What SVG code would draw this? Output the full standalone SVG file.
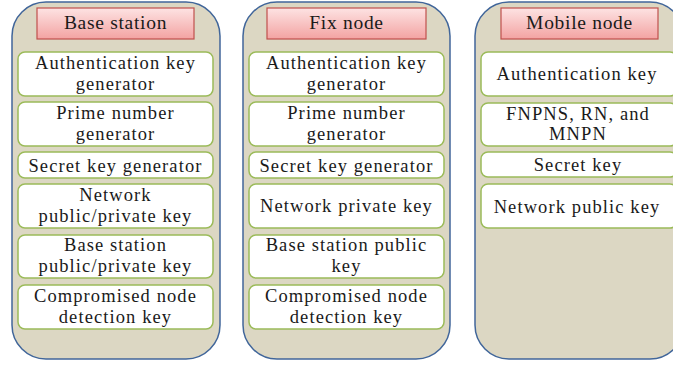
<svg xmlns="http://www.w3.org/2000/svg" width="673" height="366" viewBox="0 0 673 366">
<defs>
<linearGradient id="hdr" x1="0" y1="0" x2="0" y2="1">
<stop offset="0" stop-color="#FDE3E3"/>
<stop offset="1" stop-color="#F3A3A2"/>
</linearGradient>
<style>
.panel{fill:#DCD7C3;stroke:#41669A;stroke-width:1.5}
.hdr{fill:url(#hdr);stroke:#C0504D;stroke-width:1.2}
.item{fill:#FFFFFF;stroke:#9BBB59;stroke-width:1.5}
.t{fill:#1a1a1a}
</style>
</defs>
<rect width="673" height="366" fill="#FFFFFF"/>
<g id="base-station">
<rect class="panel" x="12" y="2" width="208" height="357" rx="34" ry="34"/>
<rect class="hdr" x="37" y="8" width="157" height="31"/>
<text class="t" font-family="Liberation Serif" font-size="19.5" letter-spacing="0.7" text-anchor="middle" x="115.5" y="29">Base station</text>
<rect class="item" x="18" y="52" width="195" height="44" rx="7"/>
<text class="t" font-family="Liberation Serif" font-size="18.5" letter-spacing="1.1" text-anchor="middle" x="115.5" y="69">Authentication key</text>
<text class="t" font-family="Liberation Serif" font-size="18.5" letter-spacing="1.1" text-anchor="middle" x="115.5" y="89.5">generator</text>
<rect class="item" x="18" y="102" width="195" height="44" rx="7"/>
<text class="t" font-family="Liberation Serif" font-size="18.5" letter-spacing="1.1" text-anchor="middle" x="115.5" y="119">Prime number</text>
<text class="t" font-family="Liberation Serif" font-size="18.5" letter-spacing="1.1" text-anchor="middle" x="115.5" y="139.5">generator</text>
<rect class="item" x="18" y="152" width="195" height="26" rx="7"/>
<text class="t" font-family="Liberation Serif" font-size="18.5" letter-spacing="1.1" text-anchor="middle" x="115.5" y="171.5">Secret key generator</text>
<rect class="item" x="18" y="184" width="195" height="44" rx="7"/>
<text class="t" font-family="Liberation Serif" font-size="18.5" letter-spacing="1.1" text-anchor="middle" x="115.5" y="201">Network</text>
<text class="t" font-family="Liberation Serif" font-size="18.5" letter-spacing="1.1" text-anchor="middle" x="115.5" y="221.5">public/private key</text>
<rect class="item" x="18" y="235" width="195" height="43" rx="7"/>
<text class="t" font-family="Liberation Serif" font-size="18.5" letter-spacing="1.1" text-anchor="middle" x="115.5" y="251">Base station</text>
<text class="t" font-family="Liberation Serif" font-size="18.5" letter-spacing="1.1" text-anchor="middle" x="115.5" y="271.5">public/private key</text>
<rect class="item" x="18" y="285" width="195" height="44" rx="7"/>
<text class="t" font-family="Liberation Serif" font-size="18.5" letter-spacing="1.1" text-anchor="middle" x="115.5" y="302">Compromised node</text>
<text class="t" font-family="Liberation Serif" font-size="18.5" letter-spacing="1.1" text-anchor="middle" x="115.5" y="322.5">detection key</text>
</g>
<g id="fix-node">
<rect class="panel" x="243" y="2" width="207" height="357" rx="34" ry="34"/>
<rect class="hdr" x="267" y="8" width="159" height="31"/>
<text class="t" font-family="Liberation Serif" font-size="19.5" letter-spacing="0.7" text-anchor="middle" x="346.5" y="29">Fix node</text>
<rect class="item" x="249" y="52" width="195" height="44" rx="7"/>
<text class="t" font-family="Liberation Serif" font-size="18.5" letter-spacing="1.1" text-anchor="middle" x="346.5" y="69">Authentication key</text>
<text class="t" font-family="Liberation Serif" font-size="18.5" letter-spacing="1.1" text-anchor="middle" x="346.5" y="89.5">generator</text>
<rect class="item" x="249" y="102" width="195" height="44" rx="7"/>
<text class="t" font-family="Liberation Serif" font-size="18.5" letter-spacing="1.1" text-anchor="middle" x="346.5" y="119">Prime number</text>
<text class="t" font-family="Liberation Serif" font-size="18.5" letter-spacing="1.1" text-anchor="middle" x="346.5" y="139.5">generator</text>
<rect class="item" x="249" y="152" width="195" height="26" rx="7"/>
<text class="t" font-family="Liberation Serif" font-size="18.5" letter-spacing="1.1" text-anchor="middle" x="346.5" y="171.5">Secret key generator</text>
<rect class="item" x="249" y="184" width="195" height="44" rx="7"/>
<text class="t" font-family="Liberation Serif" font-size="18.5" letter-spacing="1.1" text-anchor="middle" x="346.5" y="212">Network private key</text>
<rect class="item" x="249" y="235" width="195" height="43" rx="7"/>
<text class="t" font-family="Liberation Serif" font-size="18.5" letter-spacing="1.1" text-anchor="middle" x="346.5" y="251">Base station public</text>
<text class="t" font-family="Liberation Serif" font-size="18.5" letter-spacing="1.1" text-anchor="middle" x="346.5" y="271.5">key</text>
<rect class="item" x="249" y="285" width="195" height="44" rx="7"/>
<text class="t" font-family="Liberation Serif" font-size="18.5" letter-spacing="1.1" text-anchor="middle" x="346.5" y="302">Compromised node</text>
<text class="t" font-family="Liberation Serif" font-size="18.5" letter-spacing="1.1" text-anchor="middle" x="346.5" y="322.5">detection key</text>
</g>
<g id="mobile-node">
<rect class="panel" x="475" y="2" width="209" height="357" rx="34" ry="34"/>
<rect class="hdr" x="501" y="8" width="157" height="31"/>
<text class="t" font-family="Liberation Serif" font-size="19.5" letter-spacing="0.7" text-anchor="middle" x="579.5" y="29">Mobile node</text>
<rect class="item" x="481" y="52" width="196" height="44" rx="7"/>
<text class="t" font-family="Liberation Serif" font-size="18.5" letter-spacing="1.1" text-anchor="middle" x="577" y="80">Authentication key</text>
<rect class="item" x="481" y="103" width="196" height="43" rx="7"/>
<text class="t" font-family="Liberation Serif" font-size="18.5" letter-spacing="1.1" text-anchor="middle" x="578" y="119.5">FNPNS, RN, and</text>
<text class="t" font-family="Liberation Serif" font-size="18.5" letter-spacing="1.1" text-anchor="middle" x="578" y="140">MNPN</text>
<rect class="item" x="481" y="152" width="196" height="25" rx="7"/>
<text class="t" font-family="Liberation Serif" font-size="18.5" letter-spacing="1.1" text-anchor="middle" x="578" y="171">Secret key</text>
<rect class="item" x="481" y="184" width="196" height="44" rx="7"/>
<text class="t" font-family="Liberation Serif" font-size="18.5" letter-spacing="1.1" text-anchor="middle" x="577" y="213">Network public key</text>
</g>
<g id="connectors"/>
</svg>
